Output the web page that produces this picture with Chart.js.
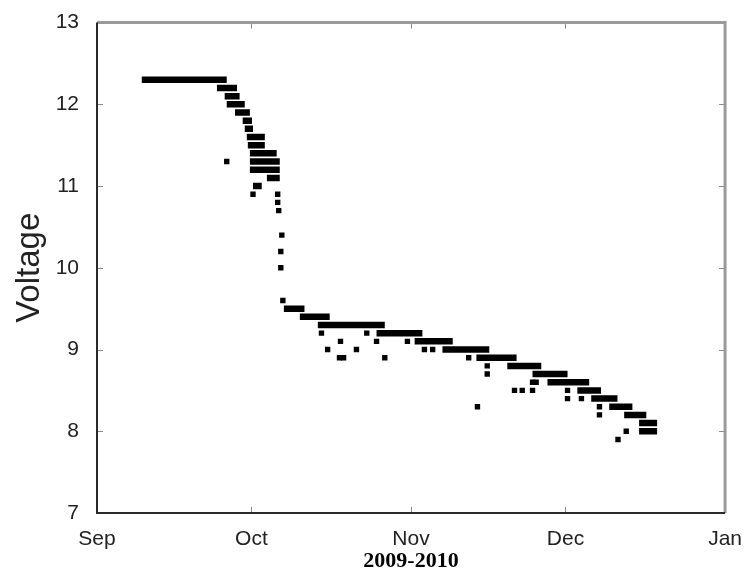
<!DOCTYPE html>
<html>
<head>
<meta charset="utf-8">
<script src="https://cdn.jsdelivr.net/npm/chart.js@4/dist/chart.umd.min.js"></script>
<style>
  html, body { margin: 0; padding: 0; background: #fff; }
  #wrap { width: 748px; height: 579px; position: relative; }
</style>
</head>
<body>
<div id="wrap"><canvas id="chart" width="748" height="579"></canvas></div>
<script>
// x values are days after 1 Sep 2009
const monthLabels = ['Sep', 'Oct', 'Nov', 'Dec', 'Jan'];
const monthDays = [0, 30, 61, 91, 122];
const voltTicks = [7, 8, 9, 10, 11, 12, 13];

// flat stretches where the reading stayed at one level
const runVolt  = [12.3, 12.2, 12.1, 12.0, 11.9, 11.8, 11.7, 11.6, 11.5, 11.4, 11.3, 11.2, 11.1, 11.0,
                  9.5, 9.4, 9.3, 9.2, 9.1, 9.0, 8.9, 8.8, 8.7, 8.6, 8.5, 8.4, 8.3, 8.2, 8.1, 8.0];
const runStart = [8.7, 23.3, 24.8, 25.2, 26.8, 28.3, 28.7, 29.1, 29.3, 29.7, 29.7, 29.7, 33.0, 30.3,
                  36.3, 39.4, 42.9, 54.3, 61.7, 67.1, 73.7, 79.7, 84.6, 87.5, 93.3, 96.0, 99.5, 102.4, 105.3, 105.3];
const runEnd   = [25.2, 27.2, 27.7, 28.7, 29.7, 30.1, 30.3, 32.6, 32.6, 34.9, 35.5, 35.5, 35.5, 32.0,
                  40.3, 45.2, 55.9, 63.2, 69.1, 76.2, 81.5, 86.3, 91.4, 95.6, 97.9, 101.1, 104.0, 106.7, 108.8, 108.8];

// single readings
const dotDay  = [25.2, 30.3, 35.1, 35.1, 35.3, 35.9, 35.7, 35.7, 36.1, 43.6, 52.4, 47.3, 54.3, 60.3,
                 44.8, 50.4, 63.6, 65.2, 47.1, 47.9, 55.9, 72.2, 75.8, 75.8, 73.9, 81.1, 82.6, 84.6,
                 84.6, 85.3, 91.4, 91.4, 94.1, 97.6, 97.6, 102.8, 101.2];
const dotVolt = [11.3, 10.9, 10.9, 10.8, 10.7, 10.4, 10.2, 10.0, 9.6, 9.2, 9.2, 9.1, 9.1, 9.1,
                 9.0, 9.0, 9.0, 9.0, 8.9, 8.9, 8.9, 8.9, 8.8, 8.7, 8.3, 8.5, 8.5, 8.5,
                 8.6, 8.6, 8.5, 8.4, 8.4, 8.3, 8.2, 8.0, 7.9];

const runPoints = [];
runVolt.forEach((v, i) => {
  runPoints.push({ x: runStart[i], y: v }, { x: runEnd[i], y: v }, { x: runEnd[i], y: null });
});
const dotPoints = dotDay.map((d, i) => ({ x: d, y: dotVolt[i] }));

// box with inward ticks, like the matlab axes
const boxPlugin = {
  id: 'box',
  afterDraw(chart) {
    const { ctx, chartArea: a, scales } = chart;
    ctx.save();
    ctx.strokeStyle = '#8a8a8a';
    ctx.lineWidth = 1;
    ctx.beginPath();
    monthDays.forEach(d => {
      const px = Math.round(scales.x.getPixelForValue(d)) + 0.5;
      ctx.moveTo(px, a.bottom); ctx.lineTo(px, a.bottom - 6);
      ctx.moveTo(px, a.top); ctx.lineTo(px, a.top + 6);
    });
    voltTicks.forEach(v => {
      const py = Math.round(scales.y.getPixelForValue(v)) + 0.5;
      ctx.moveTo(a.left, py); ctx.lineTo(a.left + 6, py);
      ctx.moveTo(a.right, py); ctx.lineTo(a.right - 6, py);
    });
    ctx.stroke();
    ctx.strokeStyle = '#9a9a9a';
    ctx.lineWidth = 3;
    ctx.beginPath();
    ctx.moveTo(a.left, a.top); ctx.lineTo(a.right, a.top); ctx.lineTo(a.right, a.bottom);
    ctx.stroke();
    ctx.strokeStyle = '#2a2a2a';
    ctx.lineWidth = 2;
    ctx.beginPath();
    ctx.moveTo(a.left, a.top); ctx.lineTo(a.left, a.bottom); ctx.lineTo(a.right, a.bottom);
    ctx.stroke();
    ctx.restore();
  }
};

new Chart(document.getElementById('chart').getContext('2d'), {
  type: 'line',
  data: {
    datasets: [
      { data: runPoints, borderColor: '#000', borderWidth: 6.5, borderCapStyle: 'butt',
        pointRadius: 0, spanGaps: false, fill: false, tension: 0 },
      { type: 'scatter', data: dotPoints, backgroundColor: '#000', borderWidth: 0,
        pointStyle: 'rect', pointRadius: 3.8 }
    ]
  },
  plugins: [boxPlugin],
  options: {
    responsive: false,
    animation: false,
    layout: { padding: { top: 17, right: 22, left: 0, bottom: 0 } },
    plugins: { legend: { display: false }, tooltip: { enabled: false } },
    scales: {
      x: {
        type: 'linear', min: 0, max: 122,
        afterFit: s => { s.height = 66; },
        afterBuildTicks: s => { s.ticks = monthDays.map(v => ({ value: v })); },
        grid: { display: false }, border: { display: false },
        ticks: {
          padding: 6, color: '#222', maxRotation: 0, autoSkip: false,
          font: { family: 'Liberation Sans', size: 21 },
          callback: v => monthLabels[monthDays.indexOf(v)]
        },
        title: { display: true, text: '2009-2010', color: '#000', padding: { top: 0, bottom: 4 },
                 font: { family: 'Liberation Serif', size: 22, weight: 'bold' } }
      },
      y: {
        min: 7, max: 13,
        afterFit: s => { s.width = 97; },
        afterBuildTicks: s => { s.ticks = voltTicks.map(v => ({ value: v })); },
        grid: { display: false }, border: { display: false },
        ticks: { padding: 10, color: '#222', font: { family: 'Liberation Sans', size: 21 } },
        title: { display: true, text: 'Voltage', color: '#222', padding: { top: 10, bottom: 0 },
                 font: { family: 'Liberation Sans', size: 33 } }
      }
    }
  }
});
</script>
</body>
</html>
